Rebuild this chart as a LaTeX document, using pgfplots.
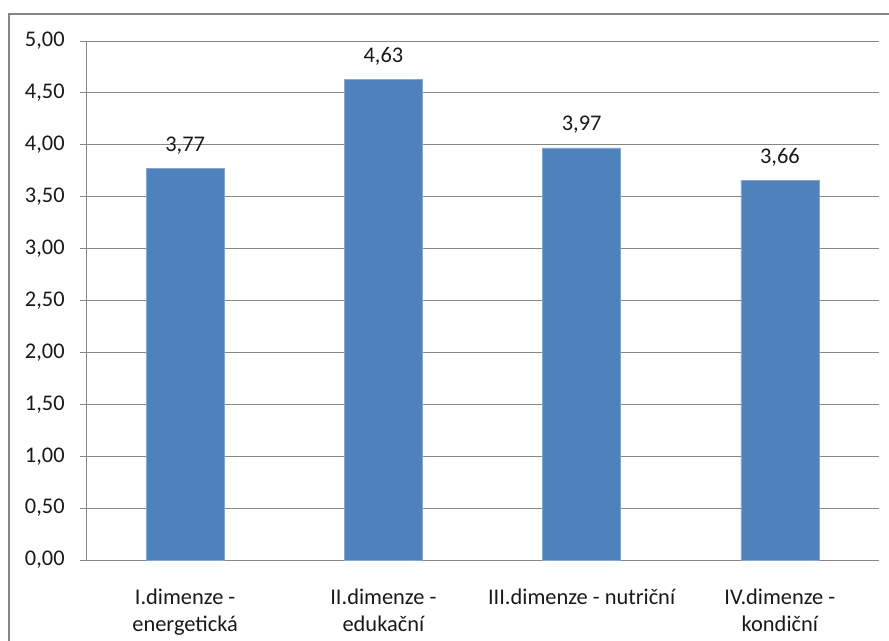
\documentclass[border=0pt]{standalone}
\usepackage{pgfplots}
\pgfplotsset{compat=1.18}
\usepackage{fontspec}
\setmainfont{Carlito}
\definecolor{barblue}{HTML}{4F81BD}
\definecolor{gridgray}{HTML}{868686}
\begin{document}
\begin{tikzpicture}
% page area and outer frame
\useasboundingbox (0pt,0pt) rectangle (666.75pt,480.75pt);
\draw[gridgray, line width=0.9pt] (6.75pt,0pt) -- (6.75pt,470.25pt) -- (666.75pt,470.25pt);
\begin{axis}[
  at={(64.5pt,60.75pt)}, anchor=south west,
  scale only axis,
  width=594.75pt, height=389.25pt,
  xmin=-0.5, xmax=3.5,
  ymin=0, ymax=5,
  ytick={0,0.5,...,5},
  axis lines=left,
  axis line style={-, gridgray, line width=0.6pt},
  ymajorgrids,
  grid style={gridgray, line width=0.6pt},
  tick align=outside,
  major tick length=4.5pt,
  tick style={gridgray, line width=0.6pt},
  xtick={0,1,2,3},
  xticklabels={{I.dimenze -\\energetická},{II.dimenze -\\edukační},{III.dimenze - nutriční},{IV.dimenze -\\kondiční}},
  x tick style={draw=none},
  extra x ticks={-0.5,0.5,1.5,2.5,3.5},
  extra x tick labels={},
  extra x tick style={grid=none, major tick length=6pt, tick style={draw=gridgray, line width=0.6pt}},
  xticklabel style={align=center, font=\fontsize{16.8}{20}\selectfont, text=black!90, yshift=-14pt},
  yticklabel style={font=\fontsize{16.8}{20}\selectfont, text=black!90, xshift=-8pt},
  /pgf/number format/assume math mode=true,
  yticklabel={\pgfmathprintnumber[fixed, fixed zerofill, precision=2, use comma]{\tick}},
  nodes near coords={\pgfmathprintnumber[fixed, fixed zerofill, precision=2, use comma]{\pgfplotspointmeta}},
  nodes near coords style={font=\fontsize{16.8}{20}\selectfont, text=black!90, yshift=7pt},
  clip=false,
]
\addplot[ybar, bar width=58.5pt, fill=barblue, draw=barblue!70!white, bar shift=0pt]
  coordinates {(0,3.77) (1,4.63) (2,3.97) (3,3.66)};
\end{axis}
\end{tikzpicture}
\end{document}
